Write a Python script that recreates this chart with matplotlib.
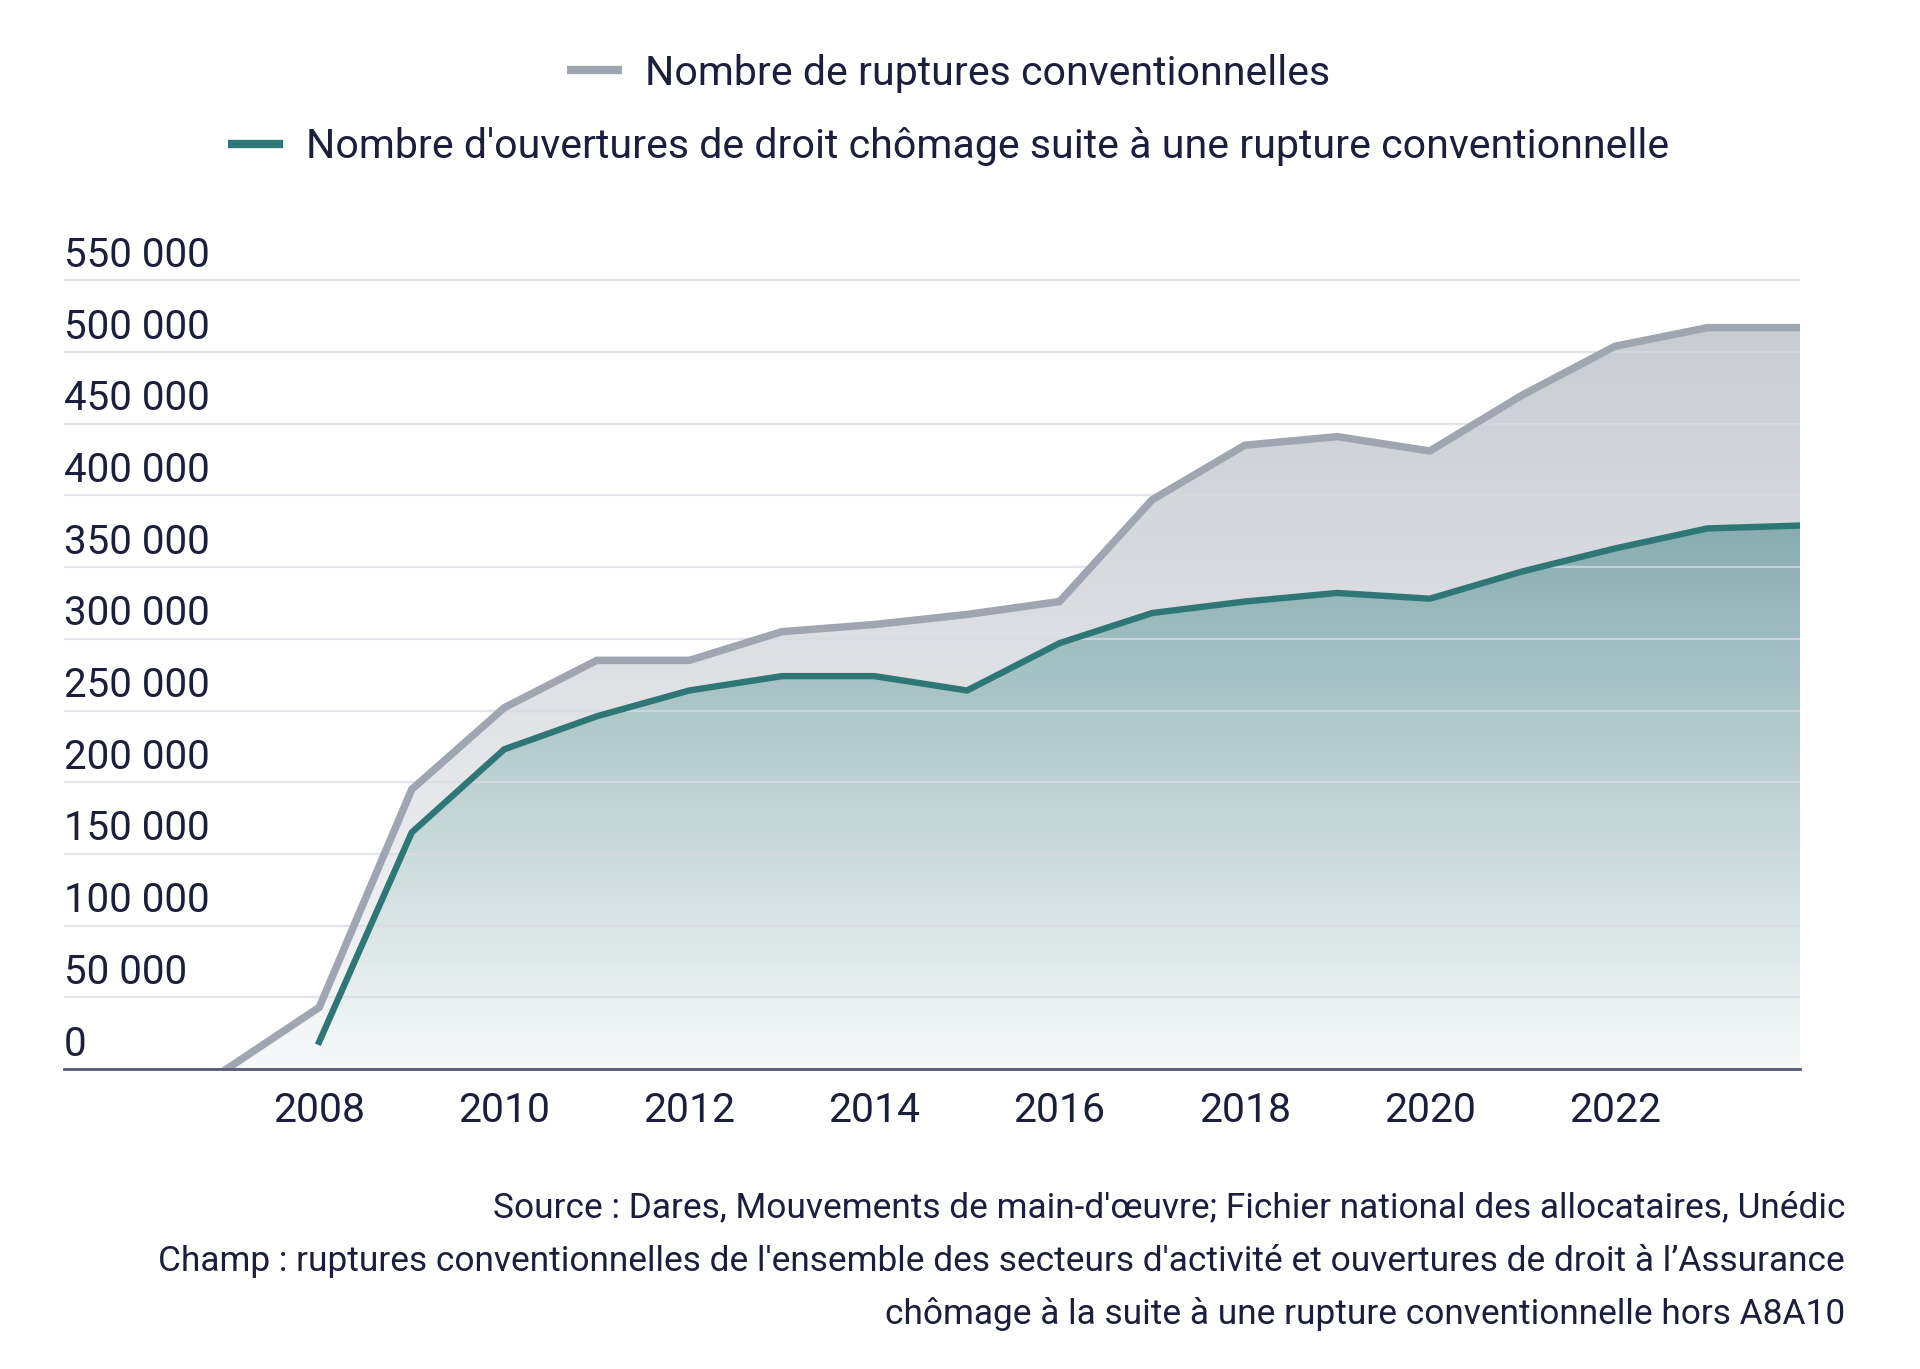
import numpy as np
import matplotlib
matplotlib.use("Agg")
from matplotlib import pyplot as plt
from matplotlib.lines import Line2D
from matplotlib.colors import to_rgb

plt.rcParams['font.family'] = ['Roboto', 'DejaVu Sans']

# Data
years_rc = [2007, 2008, 2009, 2010, 2011, 2012, 2013, 2014, 2015, 2016,
            2017, 2018, 2019, 2020, 2021, 2022, 2023, 2024]
ruptures = [0, 43000, 195000, 252000, 285000, 285000, 305000, 310000, 317000,
            326000, 397000, 435000, 441000, 431000, 470000, 504000, 517000, 517000]

years_od = [2008, 2009, 2010, 2011, 2012, 2013, 2014, 2015, 2016,
            2017, 2018, 2019, 2020, 2021, 2022, 2023, 2024]
ouvertures = [19000, 165000, 223000, 246000, 264000, 274000, 274000, 264000,
              297000, 318000, 326000, 332000, 328000, 347000, 363000, 377000, 379000]

yticks = list(range(0, 550001, 50000))
xticks = list(range(2008, 2023, 2))

label_rc = "Nombre de ruptures conventionnelles"
label_od = "Nombre d'ouvertures de droit chômage suite à une rupture conventionnelle"
source_lines = [
    "Source : Dares, Mouvements de main-d'œuvre; Fichier national des allocataires, Unédic",
    "Champ : ruptures conventionnelles de l'ensemble des secteurs d'activité et ouvertures de droit à l\u2019Assurance",
    "chômage à la suite à une rupture conventionnelle hors A8A10",
]

TXT = '#1b1f3b'
GRAY = '#a0a6b1'
TEAL = '#2f7776'


def gradient_fill(ax, x, y, c_top, c_bot, zorder):
    poly = ax.fill_between(x, y, 0, color='none', lw=0)
    n = 256
    t = np.linspace(0, 1, n)[:, None]
    ct, cb = np.array(to_rgb(c_top)), np.array(to_rgb(c_bot))
    grad = (cb + (ct - cb) * t)[:, None, :].repeat(2, axis=1)
    img = ax.imshow(grad, extent=[min(x), max(x), 0, max(y)], origin='lower',
                    aspect='auto', zorder=zorder, interpolation='bilinear')
    img.set_clip_path(poly.get_paths()[0], ax.transData)


fig = plt.figure(figsize=(19.2, 13.69), dpi=100)
ax = fig.add_axes([0.0332, 0.2191, 0.9043, 0.5866])

gradient_fill(ax, years_rc, ruptures, '#c9ccd3', '#f7f8f9', 1)
gradient_fill(ax, years_od, ouvertures, '#88adb0', '#f7f9f9', 2)

for v in yticks:
    ax.axhline(v, color='#d9dbe3', lw=1.6, alpha=0.75, zorder=3)
    ax.annotate(f"{v:,}".replace(",", " "), xy=(0, v),
                xycoords=('axes fraction', 'data'), xytext=(0, 18),
                textcoords='offset points', ha='left', va='center',
                fontsize=29, color=TXT)

ax.plot(years_rc, ruptures, color=GRAY, lw=5.4, zorder=4, solid_joinstyle='miter')
ax.plot(years_od, ouvertures, color=TEAL, lw=4.6, zorder=5, solid_joinstyle='miter')

ax.set_xlim(2005.24, 2024)
ax.set_ylim(0, 560000)
ax.set_xticks(xticks)
ax.set_xticklabels([str(y) for y in xticks])
ax.set_yticks([])
ax.tick_params(axis='x', length=0, pad=16, labelsize=29.5, labelcolor=TXT)
for s in ['top', 'right', 'left']:
    ax.spines[s].set_visible(False)
ax.spines['bottom'].set_color('#555b72')
ax.spines['bottom'].set_linewidth(2)
ax.spines['bottom'].set_zorder(6)

# legend: two centred rows
h1 = Line2D([], [], color=GRAY, lw=6, solid_capstyle='butt')
h2 = Line2D([], [], color=TEAL, lw=6, solid_capstyle='butt')
for h, lab, y in [(h1, label_rc, 0.9465), (h2, label_od, 0.893)]:
    fig.legend([h], [lab], loc='center', bbox_to_anchor=(0.494, y), frameon=False,
               fontsize=29.6, labelcolor=TXT, handlelength=1.34, handletextpad=0.57)

for i, line in enumerate(source_lines):
    fig.text(0.961, 0.118 - i * 0.0388, line, ha='right', va='center',
             fontsize=25.4, color=TXT)

fig.savefig('out.png', dpi=100)
